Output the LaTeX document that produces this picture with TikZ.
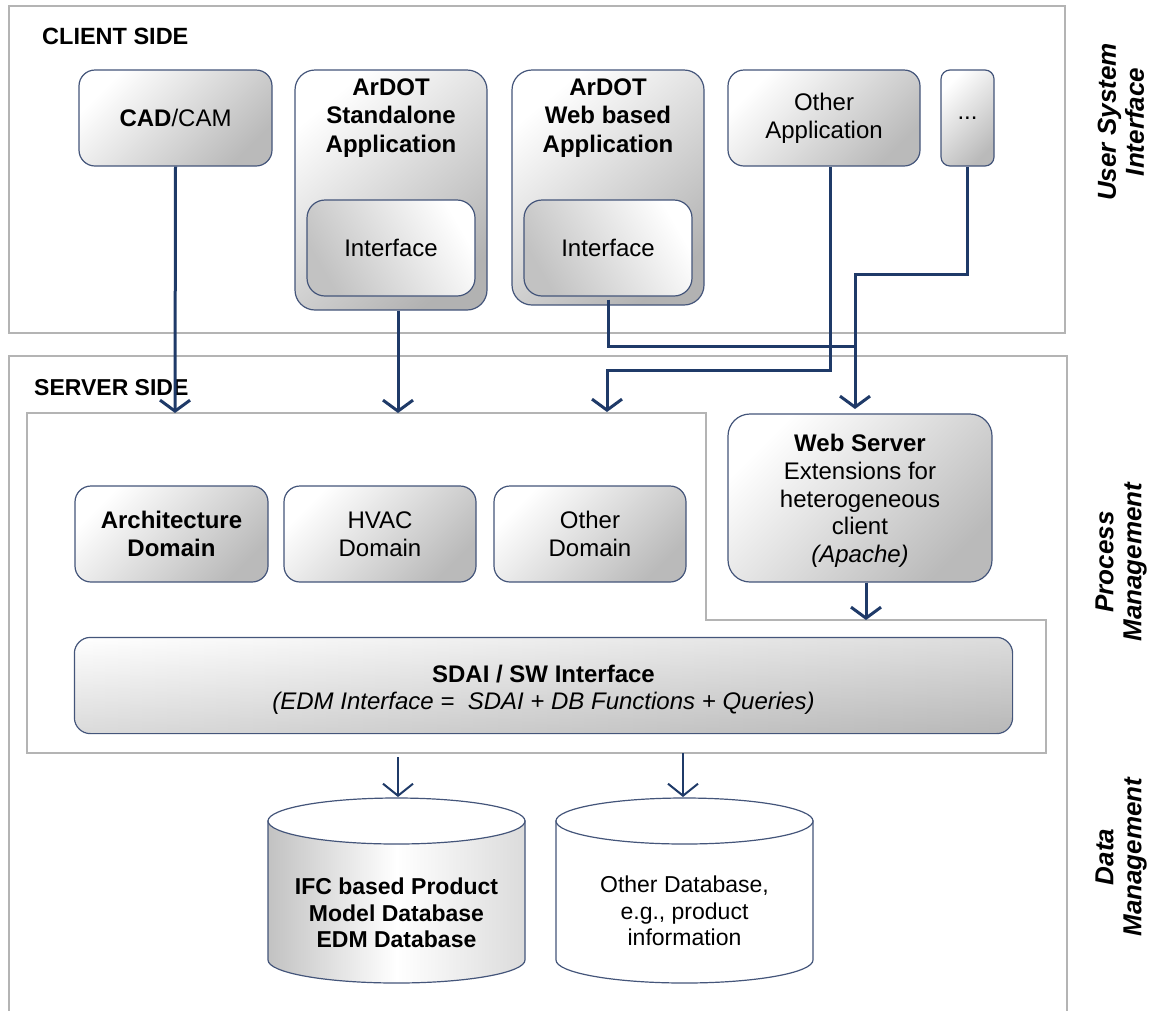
\documentclass[tikz,border=0pt]{standalone}
\usepackage{fontspec}
\setmainfont{Liberation Sans}
\usetikzlibrary{arrows.meta,calc}
\definecolor{conncol}{HTML}{1F3A68}
\definecolor{boxline}{HTML}{44557A}
\definecolor{framecol}{HTML}{B4B4B4}
\tikzset{
  txt/.style={font=\fontsize{24}{28}\selectfont, align=center, inner sep=0pt},
  box/.style={draw=boxline, line width=1.2pt, rounded corners=16pt,
    top color=white, bottom color=black!27, shading angle=45,
    inner sep=0pt, align=center, font=\fontsize{24}{28}\selectfont},
  innerbox/.style={box, rounded corners=18pt, top color=white, bottom color=black!24, shading angle=-60},
  outerbox/.style={box, rounded corners=20pt, top color=white, bottom color=black!30, shading angle=40},
  frameline/.style={draw=framecol, line width=1.5pt},
  conn/.style={draw=conncol, line width=3pt, -{Straight Barb[length=11pt,width=30pt]}},
  connthin/.style={draw=conncol, line width=2pt, -{Straight Barb[length=12pt,width=30pt]}},
  plainconn/.style={draw=conncol, line width=3pt},
  sidelabel/.style={font=\fontsize{26}{28}\selectfont\bfseries\itshape, align=center, rotate=90, inner sep=0pt},
  dbline/.style={draw=boxline, line width=1.2pt}
}
\begin{document}
\begin{tikzpicture}[x=1pt,y=-1pt]
\useasboundingbox (0,0) rectangle (1153,1010);

% frames
\draw[frameline] (9,6) rectangle (1065,333);
\draw[frameline] (9,1012) -- (9,356) -- (1067,356) -- (1067,1012);
\draw[frameline] (27,413) -- (706,413) -- (706,620) -- (1046,620) -- (1046,753) -- (27,753) -- cycle;

\node[txt, font=\fontsize{23.5}{28}\selectfont\bfseries, anchor=base west] (client) at (42,44) {CLIENT SIDE};
\node[txt, font=\fontsize{23}{28}\selectfont\bfseries, anchor=base west] (server) at (34,395) {SERVER SIDE};

% client side boxes
\node[box, minimum width=193pt, minimum height=96pt] (cad) at (175.5,118) {\textbf{CAD}/CAM};

\node[outerbox, minimum width=192pt, minimum height=240pt] (sa) at (391,190) {};
\node[innerbox, minimum width=168pt, minimum height=96pt] (saint) at (391,248) {Interface};
\node[txt, font=\fontsize{24}{28.5}\selectfont\bfseries] (satitle) at (391,118) {ArDOT\\Standalone\\Application};

\node[outerbox, minimum width=192pt, minimum height=235pt] (wb) at (608,187.5) {};
\node[innerbox, minimum width=168pt, minimum height=96pt] (wbint) at (608,248) {Interface};
\node[txt, font=\fontsize{24}{28.5}\selectfont\bfseries] (wbtitle) at (608,118) {ArDOT\\Web based\\Application};

\node[box, minimum width=192pt, minimum height=96pt] (oa) at (824,118) {Other\\Application};
\node[box, rounded corners=9pt, minimum width=53pt, minimum height=96pt] (dots) at (967.5,118) {...};

% server side boxes
\node[box, minimum width=193pt, minimum height=96pt] (arch) at (171.5,534) {\textbf{Architecture}\\\textbf{Domain}};
\node[box, minimum width=192pt, minimum height=96pt] (hvac) at (380,534) {HVAC\\Domain};
\node[box, minimum width=192pt, minimum height=96pt] (od) at (590,534) {Other\\Domain};

\node[box, rounded corners=22pt, minimum width=264pt, minimum height=168pt] (ws) at (860,498) {};
\node[txt, font=\fontsize{24}{27.7}\selectfont] (wstext) at (860,501) {\textbf{Web Server}\\Extensions for\\heterogeneous\\client\\\textit{(Apache)}};

\node[box, draw=none, rounded corners=16pt, top color=white, bottom color=black!26, shading angle=0,
      minimum width=937pt, minimum height=95pt] (sdai) at (543.5,685.5) {};
\shade[rounded corners=16pt, left color=white, right color=black!30, fill opacity=0.45]
  (sdai.north west) rectangle (sdai.south east);
\draw[draw=boxline, line width=1.2pt, rounded corners=16pt] (sdai.north west) rectangle (sdai.south east);
\node[txt, font=\fontsize{24}{26.5}\selectfont] (sdaitext) at (543.5,690) {\textbf{SDAI / SW Interface}\\\textit{(EDM Interface =\ \ SDAI + DB Functions + Queries)}};

% databases
\shade[left color=black!24, right color=black!14, middle color=white, draw=boxline, line width=1.2pt]
  (268,821) -- (268,960) arc[start angle=180, end angle=360, x radius=128.5pt, y radius=23pt] -- (525,821) -- cycle;
\draw[dbline, fill=white] (396.5,821) ellipse [x radius=128.5pt, y radius=23pt];
\draw[dbline, fill=white]
  (556,821) -- (556,960) arc[start angle=180, end angle=360, x radius=128.5pt, y radius=23pt] -- (813,821) -- cycle;
\draw[dbline, fill=white] (684.5,821) ellipse [x radius=128.5pt, y radius=23pt];
\node[txt, font=\fontsize{23}{26.7}\selectfont\bfseries] (db1) at (396.5,913) {IFC based Product\\Model Database\\EDM Database};
\node[txt, font=\fontsize{23}{26.7}\selectfont] (db2) at (684.5,911) {Other Database,\\e.g., product\\information};
\coordinate (db1top) at (398,797);
\coordinate (db2top) at (683,797);

% side labels
\node[sidelabel] (usi) at (1121,122) {User System\\Interface};
\node[sidelabel] (pm) at (1121,562) {Process\\Management};
\node[sidelabel] (dm) at (1121,857) {Data\\Management};

% connector coordinates
\coordinate (srvA) at (175,413);
\coordinate (srvB) at (398,413);
\coordinate (srvC) at (607,412);
\coordinate (wsIn) at (855,409);
\coordinate (joinW) at (855,346);
\coordinate (oaBend) at (830,370);
\coordinate (dotsBend) at (855,274);
\coordinate (wsOut) at (866,620);
\coordinate (sdaiOut1) at (398,757);
\coordinate (sdaiOut2) at (683,753);

% connectors
\draw[conn] (cad.south) -- (srvA);
\draw[conn] (srvB |- sa.south) -- (srvB);
\draw[plainconn] (wbint.south -| wb.south) ++(0,3) |- (joinW);
\draw[conn] (oaBend |- oa.south) -- (oaBend) -| (srvC);
\draw[conn] (dots.south) |- (dotsBend) -- (wsIn);
\draw[conn] (wsOut |- ws.south) -- (wsOut);
\draw[connthin] (sdaiOut1) -- (db1top);
\draw[connthin] (sdaiOut2) -- (db2top);
\end{tikzpicture}
\end{document}
